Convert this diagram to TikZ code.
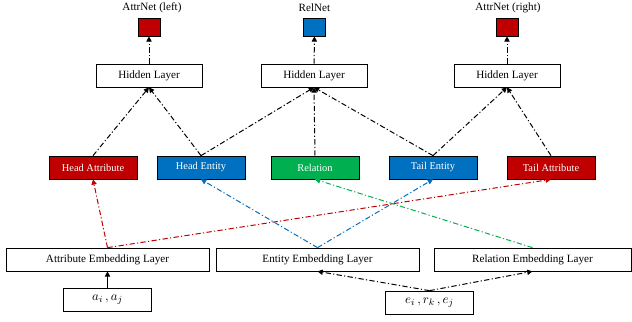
\documentclass[tikz,border=0pt]{standalone}
\usepackage{fontspec}
\setmainfont{Liberation Serif}
\usetikzlibrary{arrows.meta, positioning}
\usepackage{xcolor}

\definecolor{attrred}{HTML}{C00000}
\definecolor{entblue}{HTML}{0070C0}
\definecolor{relgreen}{HTML}{00B050}

\begin{document}
\begin{tikzpicture}[
        x=0.3mm, y=-0.3mm,
        layer/.style={draw, line width=0.6pt, fill=white, inner sep=0pt, minimum height=0.69cm, font=\fontsize{9.5}{11}\selectfont},
        hidden/.style={layer, minimum width=3.18cm},
        embed/.style={layer, minimum width=6.09cm},
        input/.style={layer, minimum width=2.64cm, font=\fontsize{11}{13}\selectfont},
        feat/.style={layer, minimum width=2.64cm, text=white, font=\fontsize{8.9}{10}\selectfont},
        net/.style={draw, line width=0.6pt, minimum width=0.66cm, minimum height=0.54cm, inner sep=0pt},
        link/.style={line width=0.85pt, dash pattern=on 4.5pt off 2pt on 1pt off 2pt, -{Triangle[length=4.5pt, width=4.5pt]}}
    ]
        \useasboundingbox (0,0) rectangle (632,322);

        % Output networks
        \node[net, fill=attrred] (outl) at (149,27) {};
        \node[net, fill=entblue] (outm) at (314.5,27) {};
        \node[net, fill=attrred] (outr) at (507,27) {};
        \node[font=\fontsize{9.5}{11}\selectfont] (labl) at (152,8) {AttrNet (left)};
        \node[font=\fontsize{9.5}{11}\selectfont] (labm) at (314.5,8) {RelNet};
        \node[font=\fontsize{9.5}{11}\selectfont] (labr) at (508,8) {AttrNet (right)};

        % Hidden layers
        \node[hidden] (hidl) at (149,75.5) {Hidden Layer};
        \node[hidden] (hidm) at (314,75.5) {Hidden Layer};
        \node[hidden] (hidr) at (507,75.5) {Hidden Layer};

        % Features
        \node[feat, fill=attrred] (hattr) at (93,167.5) {Head Attribute};
        \node[feat, fill=entblue] (hent) at (201,167.5) {Head Entity};
        \node[feat, fill=relgreen] (rel) at (315,167.5) {Relation};
        \node[feat, fill=entblue] (tent) at (433,167.5) {Tail Entity};
        \node[feat, fill=attrred] (tattr) at (551,167.5) {Tail Attribute};

        % Embedding layers
        \node[embed] (aemb) at (107.5,259.5) {Attribute Embedding Layer};
        \node[embed] (eemb) at (317.5,259.5) {Entity Embedding Layer};
        \node[embed, minimum width=5.91cm] (remb) at (532.5,259.5) {Relation Embedding Layer};

        % Inputs
        \node[input] (ain) at (107.5,299.5) {$a_i\,,a_j$};
        \node[input] (ein) at (429.5,302.5) {$e_i\,,r_k\,,e_j$};

        % Inputs to embeddings
        \draw[line width=0.85pt, -{Triangle[length=4.5pt, width=4.5pt]}] (ain) -- (aemb);
        \draw[link] (ein.north) -- (eemb.south);
        \draw[link] (ein.north) -- (remb.south);

        % Embeddings to features
        \draw[link, attrred] (aemb.north) -- (hattr.south);
        \draw[link, attrred] (aemb.north) -- (tattr.south);
        \draw[link, entblue] (eemb.north) -- (hent.south);
        \draw[link, entblue] (eemb.north) -- (tent.south);
        \draw[link, relgreen] (remb.north) -- (rel.south);

        % Features to hidden layers
        \draw[link] (hattr.north) -- (hidl.south);
        \draw[link] (hent.north) -- (hidl.south);
        \draw[link] (hent.north) -- (hidm.south);
        \draw[link] (rel.north) -- (hidm.south);
        \draw[link] (tent.north) -- (hidm.south);
        \draw[link] (tent.north) -- (hidr.south);
        \draw[link] (tattr.north) -- (hidr.south);

        % Hidden layers to outputs
        \draw[link] (hidl) -- (outl);
        \draw[link] (hidm) -- (outm);
        \draw[link] (hidr) -- (outr);

    \end{tikzpicture}
\end{document}
